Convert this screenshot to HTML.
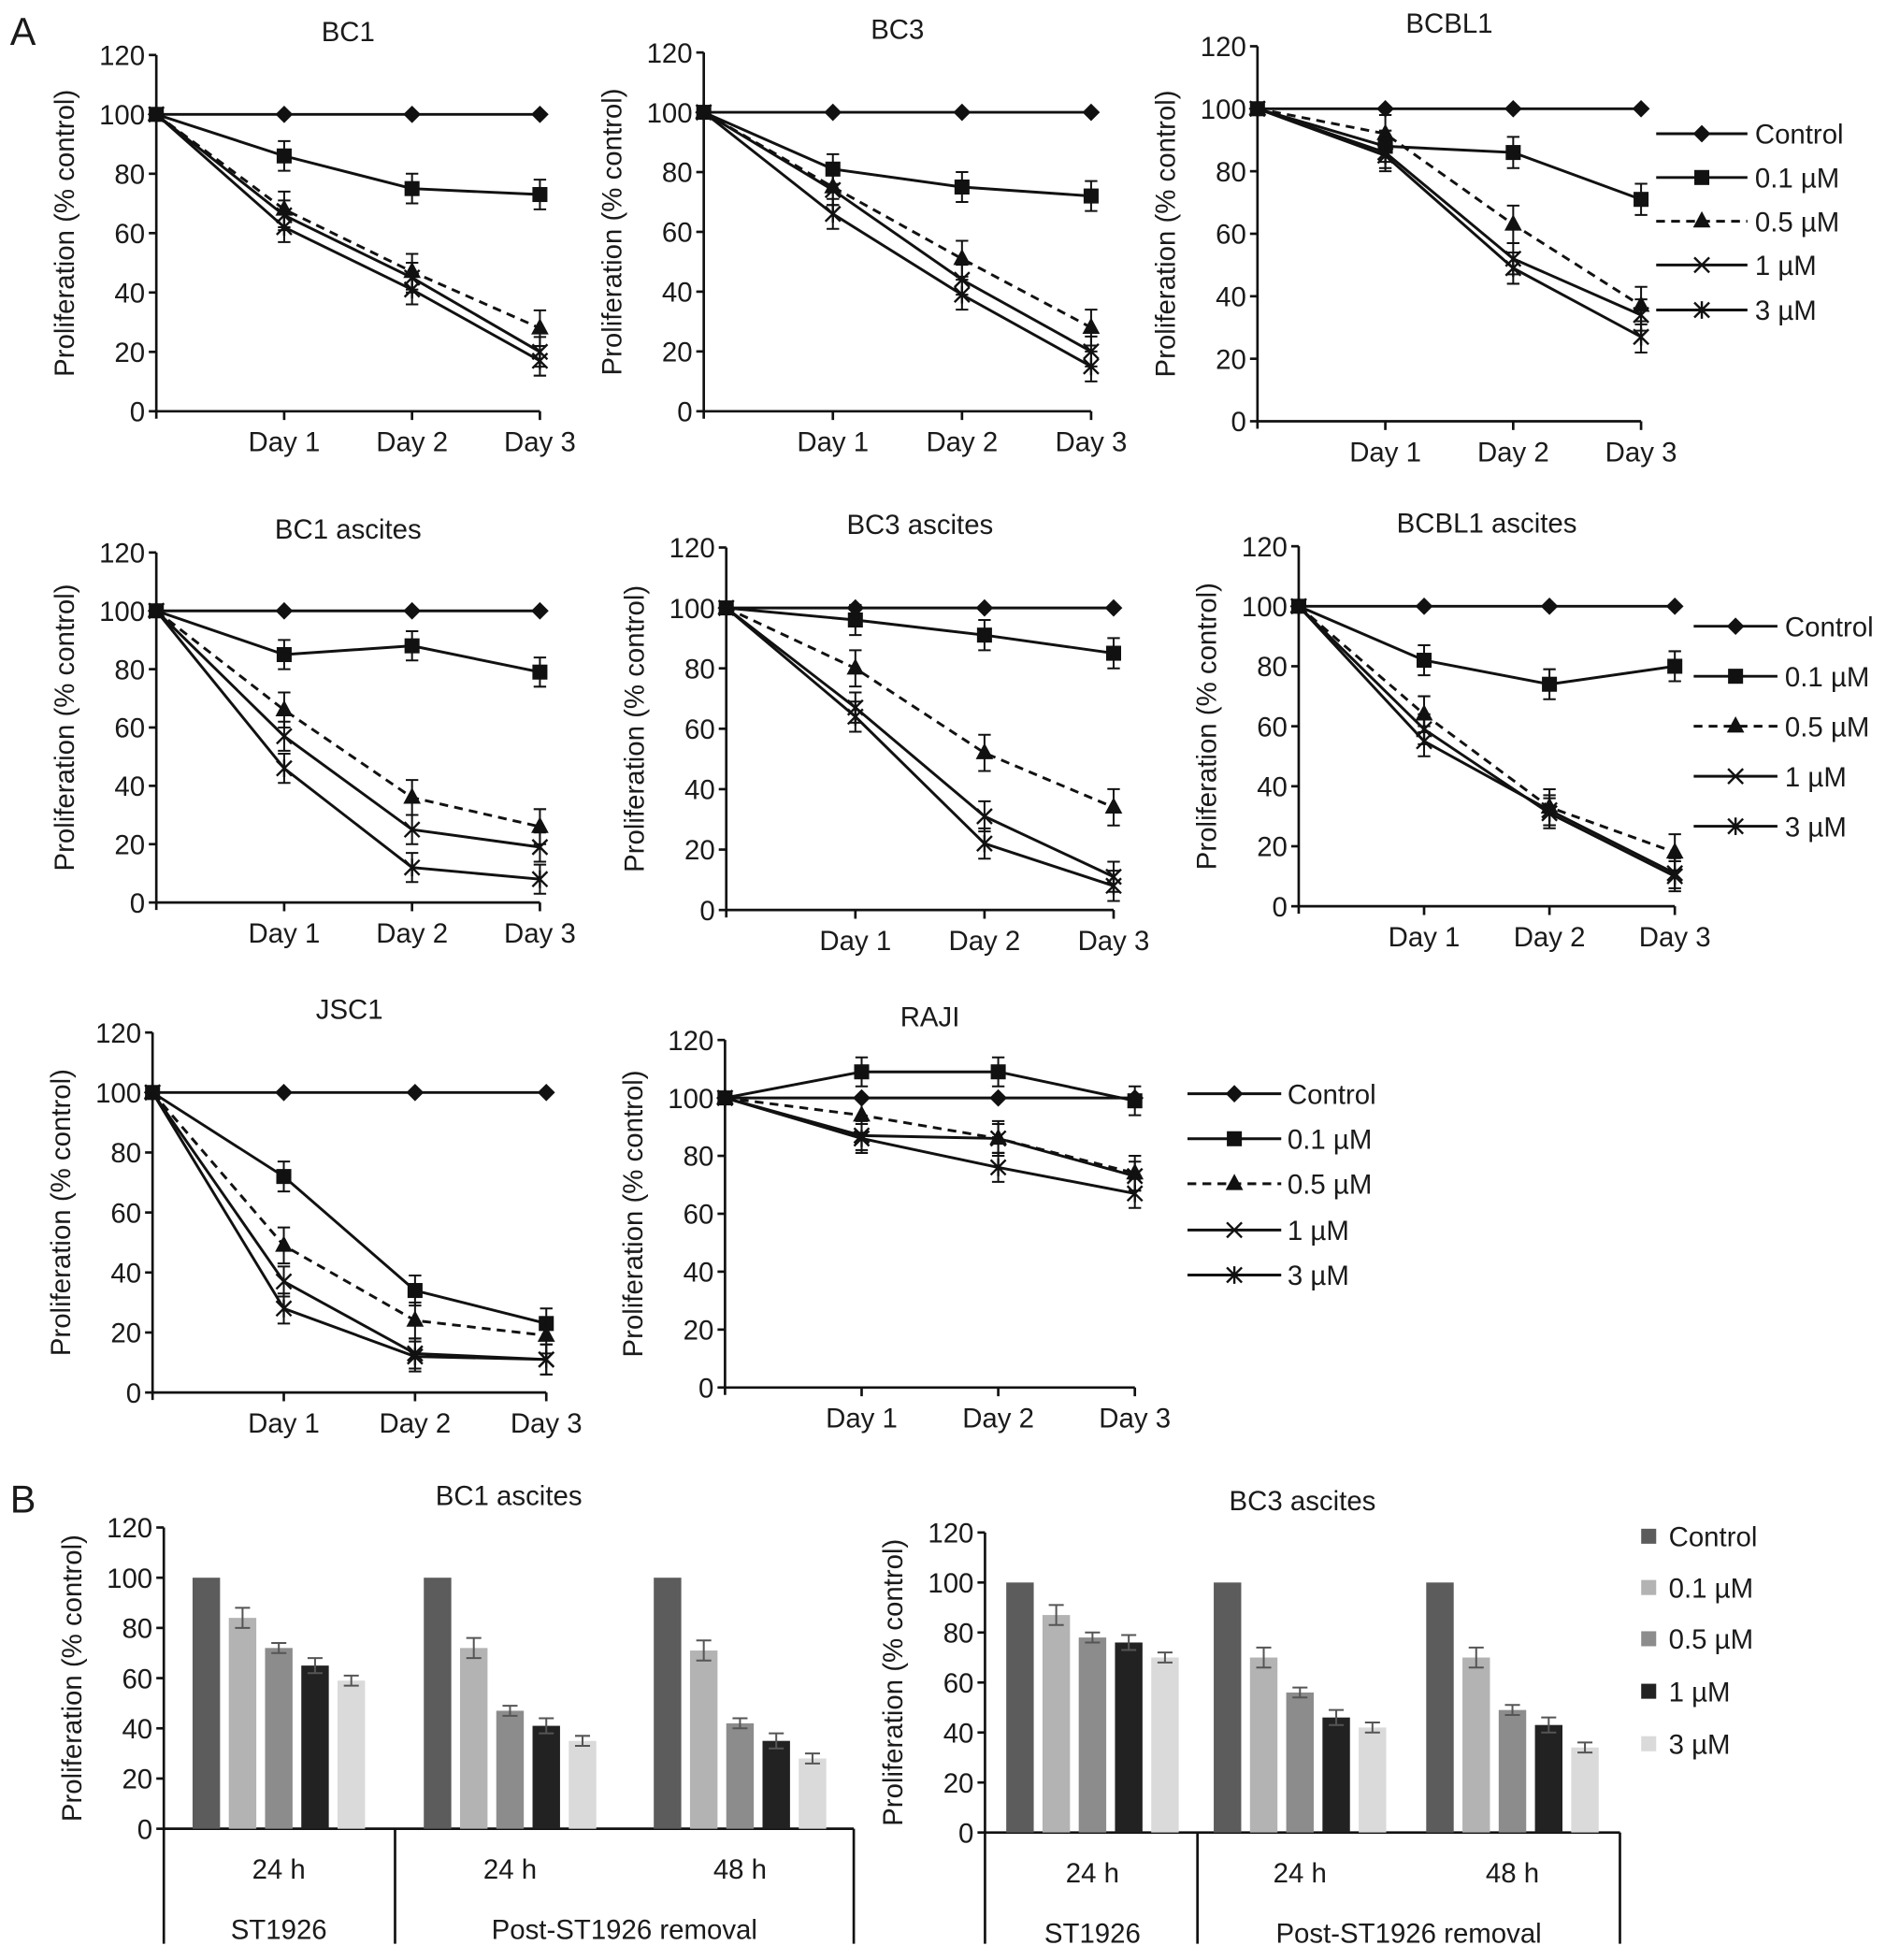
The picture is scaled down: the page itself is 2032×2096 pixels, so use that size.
<!DOCTYPE html>
<html><head><meta charset="utf-8"><style>
html,body{margin:0;padding:0;background:#fff}
svg{display:block}
text{font-family:"Liberation Sans",Arial,sans-serif;fill:#1a1a1a}
</style></head><body>
<svg id="fig" width="2032" height="2096" viewBox="0 0 1520 1568" xmlns="http://www.w3.org/2000/svg">
<text x="8" y="36" font-size="31">A</text>
<text x="8" y="1210" font-size="31">B</text>
</svg>
<script>
const seriesNames = ["Control","0.1 µM","0.5 µM","1 µM","3 µM"];
const dayLabels = ["Day 1","Day 2","Day 3"];
const yTicks = [0,20,40,60,80,100,120];
const bc1 = [[100,100,100,100],[100,86,75,73],[100,68,47,28],[100,66,45,20],[100,62,41,17]];
const bc3 = [[100,100,100,100],[100,81,75,72],[100,75,51,28],[100,74,44,20],[100,66,39,15]];
const bcbl1 = [[100,100,100,100],[100,88,86,71],[100,92,63,37],[100,86,52,34],[100,85,49,27]];
const bc1Asc = [[100,100,100,100],[100,85,88,79],[100,66,36,26],[100,57,25,19],[100,46,12,8]];
const bc3Asc = [[100,100,100,100],[100,96,91,85],[100,80,52,34],[100,67,31,11],[100,64,22,8]];
const bcbl1Asc = [[100,100,100,100],[100,82,74,80],[100,64,33,18],[100,55,32,11],[100,59,31,10]];
const jsc1 = [[100,100,100,100],[100,72,34,23],[100,49,24,19],[100,37,13,11],[100,28,12,11]];
const raji = [[100,100,100,100],[100,109,109,99],[100,94,86,74],[100,87,86,73],[100,86,76,67]];
const lineErr = [0,5,6,5,5];
const barGroupLabels = ["24 h","24 h","48 h"];
const bc1AscBars = [[100,84,72,65,59],[100,72,47,41,35],[100,71,42,35,28]];
const bc3AscBars = [[100,87,78,76,70],[100,70,56,46,42],[100,70,49,43,34]];
const barErr = [0,4,2,3,2];

const NS="http://www.w3.org/2000/svg";
const svg=document.getElementById('fig');
function mk(tag,attrs,parent){const e=document.createElementNS(NS,tag);for(const k in attrs)e.setAttribute(k,attrs[k]);(parent||svg).appendChild(e);return e;}
function txt(x,y,s,size,anchor,parent){const t=mk('text',{x:x,y:y,'font-size':size,'text-anchor':anchor||'middle'},parent);t.textContent=s;return t;}
const FS=22;

function marker(g,i,x,y){
  const s=7;
  if(i===0){mk('polygon',{points:`${x},${y-s} ${x+s},${y} ${x},${y+s} ${x-s},${y}`,fill:'#111'},g);}
  else if(i===1){mk('rect',{x:x-6,y:y-6,width:12,height:12,fill:'#111'},g);}
  else if(i===2){mk('polygon',{points:`${x},${y-8} ${x+7},${y+5} ${x-7},${y+5}`,fill:'#111'},g);}
  else if(i===3){mk('path',{d:`M${x-6} ${y-6}L${x+6} ${y+6}M${x-6} ${y+6}L${x+6} ${y-6}`,stroke:'#111','stroke-width':1.8},g);}
  else {mk('path',{d:`M${x-6} ${y-6}L${x+6} ${y+6}M${x-6} ${y+6}L${x+6} ${y-6}M${x} ${y-7}L${x} ${y+7}`,stroke:'#111','stroke-width':1.8},g);}
}

function linePanel(name,title,data,ax,y0,y120,step){
  const g=mk('g',{});
  
  
  const X=d=>ax+d*step, Y=v=>y0+(y120-y0)*v/120;
  const t=txt(ax+step*1.5,y120-11,title,FS,'middle',g);
  
  
  mk('line',{x1:ax,y1:Y(120),x2:ax,y2:y0+6,stroke:'#111','stroke-width':2},g);
  mk('line',{x1:ax,y1:y0,x2:X(3),y2:y0,stroke:'#111','stroke-width':2},g);
  yTicks.forEach(v=>{mk('line',{x1:ax-6,y1:Y(v),x2:ax,y2:Y(v),stroke:'#111','stroke-width':2},g);txt(ax-9,Y(v)+8,String(v),FS,'end',g);});
  dayLabels.forEach((l,i)=>{mk('line',{x1:X(i+1),y1:y0,x2:X(i+1),y2:y0+7,stroke:'#111','stroke-width':2},g);txt(X(i+1),y0+32,l,FS,'middle',g);});
  const yl=txt(0,0,'Proliferation (% control)',FS,'middle',g);
  yl.setAttribute('transform',`translate(${ax-66},${(y0+Y(120))/2}) rotate(-90)`);
  
  
  data.forEach((ser,i)=>{
    const sg=mk('g',{},g);
    
    
    const pts=ser.map((v,d)=>X(d)+','+Y(v)).join(' ');
    mk('polyline',{points:pts,fill:'none',stroke:'#111','stroke-width':2.2,'stroke-dasharray':i===2?'7 5':'none'},sg);
    ser.forEach((v,d)=>{
      if(d>0&&lineErr[i]){const e=lineErr[i]*(Y(0)-Y(1));mk('path',{d:`M${X(d)} ${Y(v)-e}V${Y(v)+e}M${X(d)-5} ${Y(v)-e}H${X(d)+5}M${X(d)-5} ${Y(v)+e}H${X(d)+5}`,stroke:'#111','stroke-width':1.5,fill:'none'},sg);}
      marker(sg,i,X(d),Y(v));
    });
  });
}
function lineLegend(x1,x2,tx,ys){
  const g=mk('g',{});
  
  
  seriesNames.forEach((n,i)=>{
    const eg=mk('g',{},g);
    
    
    mk('line',{x1:x1,y1:ys[i],x2:x2,y2:ys[i],stroke:'#111','stroke-width':2.2,'stroke-dasharray':i===2?'7 5':'none'},eg);
    marker(eg,i,(x1+x2)/2,ys[i]);
    txt(tx,ys[i]+8,n,FS,'start',eg);
  });
}
linePanel('chart-bc1','BC1',bc1,125,329,44,102.3);
linePanel('chart-bc3','BC3',bc3,563,329,42,103.3);
linePanel('chart-bcbl1','BCBL1',bcbl1,1006,337,37,102.3);
lineLegend(1325,1398,1404,[107,142,177,212,248]);
linePanel('chart-bc1-ascites','BC1 ascites',bc1Asc,125,722,442,102.3);
linePanel('chart-bc3-ascites','BC3 ascites',bc3Asc,581,728,438,103.3);
linePanel('chart-bcbl1-ascites','BCBL1 ascites',bcbl1Asc,1039,725,437,100.3);
lineLegend(1355,1422,1428,[501,541,581,621,661]);
linePanel('chart-jsc1','JSC1',jsc1,122,1114,826,105);
linePanel('chart-raji','RAJI',raji,580,1110,832,109.3);
lineLegend(950,1025,1030,[875,911,947,984,1020]);

const barColors=['#5c5c5c','#b3b3b3','#8c8c8c','#222','#dadada'];
function barPanel(name,title,data,ax,y0,y120,divX,rightX,centers,bottom){
  const g=mk('g',{});
  
  
  const Y=v=>y0+(y120-y0)*v/120;
  txt((ax+rightX)/2,y120-18,title,FS,'middle',g);
  mk('line',{x1:ax,y1:Y(120),x2:ax,y2:bottom,stroke:'#111','stroke-width':2},g);
  mk('line',{x1:ax,y1:y0,x2:rightX,y2:y0,stroke:'#111','stroke-width':2},g);
  mk('line',{x1:divX,y1:y0,x2:divX,y2:bottom,stroke:'#111','stroke-width':2},g);
  mk('line',{x1:rightX,y1:y0,x2:rightX,y2:bottom,stroke:'#111','stroke-width':2},g);
  yTicks.forEach(v=>{mk('line',{x1:ax-6,y1:Y(v),x2:ax,y2:Y(v),stroke:'#111','stroke-width':2},g);txt(ax-9,Y(v)+8,String(v),FS,'end',g);});
  const yl=txt(0,0,'Proliferation (% control)',FS,'middle',g);
  yl.setAttribute('transform',`translate(${ax-66},${(y0+Y(120))/2}) rotate(-90)`);
  const bw=22,gap=29;
  data.forEach((grp,gi)=>{
    grp.forEach((v,i)=>{
      const cx=centers[gi]+(i-2)*gap;
      const r=mk('rect',{x:cx-bw/2,y:Y(v),width:bw,height:y0-Y(v),fill:barColors[i]},g);
      
      
      if(barErr[i]){const e=barErr[i]*(Y(0)-Y(1));mk('path',{d:`M${cx} ${Y(v)-e}V${Y(v)+e}M${cx-6} ${Y(v)-e}H${cx+6}M${cx-6} ${Y(v)+e}H${cx+6}`,stroke:'#555','stroke-width':1.5,fill:'none'},g);}
    });
    txt(centers[gi],y0+40,barGroupLabels[gi],FS,'middle',g);
  });
  txt(centers[0],y0+88,'ST1926',FS,'middle',g);
  txt((divX+rightX)/2,y0+88,'Post-ST1926 removal',FS,'middle',g);
}
barPanel('chart-b-bc1-ascites','BC1 ascites',bc1AscBars,131,1463,1222,316,683,[223,408,592],1555);
barPanel('chart-b-bc3-ascites','BC3 ascites',bc3AscBars,788,1466,1226,958,1296,[874,1040,1210],1555);
(function(){
  const g=mk('g',{});
  
  
  [1229,1270,1311,1353,1395].forEach((y,i)=>{
    const eg=mk('g',{},g);
    
    
    mk('rect',{x:1313,y:y-6,width:12,height:12,fill:barColors[i]},eg);
    txt(1335,y+8,seriesNames[i],FS,'start',eg);
  });
})();
</script>
</body></html>
